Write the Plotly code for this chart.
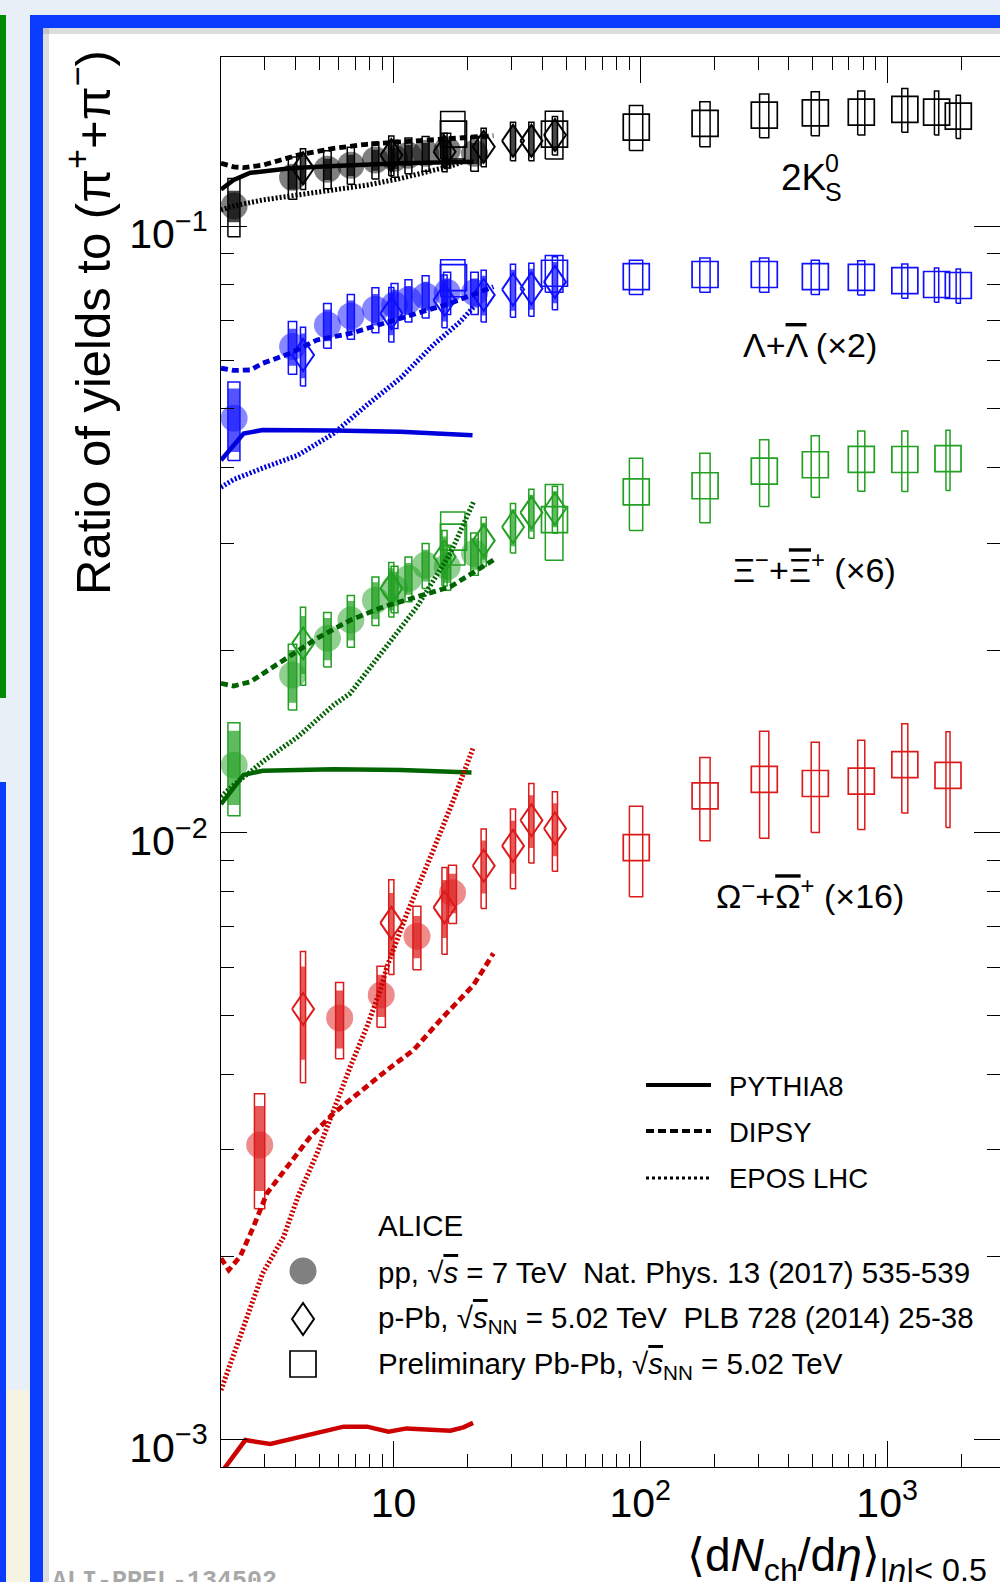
import math
import plotly.graph_objects as go

FONT = "Liberation Sans, Arial, Helvetica, sans-serif"

# ---------------- data ----------------
# multiplicity (x) values
pp_x = [2.26, 3.90, 5.40, 6.72, 8.45, 10.1, 11.5, 13.5, 16.5, 21.3]
pp_x_omega = [2.87, 6.05, 8.92, 12.45, 17.35]
ppb_x = [4.3, 9.8, 16.1, 23.2, 30.5, 36.2, 45.1]
pbpb_x_k0 = [17.5, 44.9, 96.3, 183, 318, 512, 786, 1180, 1587, 1943]
pbpb_x_xi = [17.5, 44.9, 96.3, 183, 318, 512, 786, 1180, 1765]
pbpb_x_om = [96.3, 183, 318, 512, 786, 1180, 1765]

# relative uncertainties on multiplicity (box half widths)
pp_xsys = [0.056, 0.039, 0.035, 0.033, 0.032, 0.032, 0.032, 0.032, 0.033, 0.035]
pp_xsys_omega = [0.048, 0.037, 0.039, 0.037, 0.037]
ppb_xsys = [0.024, 0.024, 0.024, 0.024, 0.024, 0.024, 0.024]
pbpb_xsys_k0 = [0.113, 0.082, 0.062, 0.048, 0.043, 0.038, 0.033, 0.028, 0.020, 0.020]
pbpb_xsys_xi = [0.113, 0.082, 0.062, 0.048, 0.043, 0.038, 0.033, 0.028, 0.019]
pbpb_xsys_om = [0.062, 0.048, 0.043, 0.038, 0.033, 0.028, 0.019]

# 2K0S / (pi+ + pi-)
k0_pp = [0.1079, 0.1203, 0.1241, 0.1260, 0.1285, 0.1294, 0.1308, 0.1318, 0.1334, 0.1318]
k0_pp_sys = [0.11, 0.08, 0.072, 0.07, 0.07, 0.07, 0.068, 0.066, 0.066, 0.066]
k0_pp_unc = [0.06, 0.045, 0.04, 0.04, 0.04, 0.04, 0.04, 0.04, 0.04, 0.04]
k0_ppb = [0.1245, 0.1309, 0.1326, 0.1351, 0.1382, 0.1382, 0.1413]
k0_ppb_sys = [0.077, 0.075, 0.073, 0.073, 0.073, 0.073, 0.073]
k0_ppb_unc = [0.06, 0.06, 0.058, 0.058, 0.058, 0.058, 0.058]
k0_pbpb = [0.1417, 0.1418, 0.1456, 0.1477, 0.1524, 0.1537, 0.1541, 0.1557, 0.1541, 0.1518]
k0_pbpb_sys = [0.09, 0.09, 0.085, 0.085, 0.083, 0.083, 0.083, 0.083, 0.083, 0.082]

# (Lambda + anti-Lambda) x2
la_pp = [0.0482, 0.0633, 0.0687, 0.0711, 0.0729, 0.0741, 0.0755, 0.0767, 0.0777, 0.0777]
la_pp_sys = [0.148, 0.10, 0.085, 0.085, 0.085, 0.085, 0.08, 0.08, 0.08, 0.08]
la_pp_unc = [0.12, 0.07, 0.06, 0.06, 0.06, 0.06, 0.055, 0.055, 0.055, 0.055]
la_ppb = [0.0613, 0.0718, 0.0755, 0.0770, 0.0786, 0.0789, 0.0809]
la_ppb_sys = [0.111, 0.103, 0.10, 0.098, 0.10, 0.10, 0.10]
la_ppb_unc = [0.085, 0.08, 0.078, 0.075, 0.078, 0.078, 0.078]
la_pbpb = [0.0822, 0.0836, 0.0825, 0.0832, 0.0832, 0.0825, 0.0823, 0.0813, 0.0801, 0.0798]
la_pbpb_sys = [0.07, 0.07, 0.065, 0.065, 0.065, 0.065, 0.065, 0.065, 0.065, 0.065]

# (Xi- + anti-Xi+) x6
xi_pp = [0.01292, 0.01819, 0.02091, 0.02241, 0.02417, 0.02527, 0.02625, 0.02761, 0.02743, 0.02887]
xi_pp_sys = [0.175, 0.124, 0.103, 0.098, 0.092, 0.088, 0.085, 0.085, 0.085, 0.08]
xi_pp_unc = [0.14, 0.10, 0.08, 0.075, 0.07, 0.065, 0.06, 0.06, 0.06, 0.06]
xi_ppb = [0.02051, 0.02527, 0.0285, 0.0303, 0.0319, 0.0337, 0.0342]
xi_ppb_sys = [0.147, 0.103, 0.105, 0.093, 0.094, 0.093, 0.089]
xi_ppb_unc = [0.11, 0.08, 0.08, 0.07, 0.07, 0.07, 0.068]
xi_pbpb = [0.0307, 0.0328, 0.03645, 0.03731, 0.03945, 0.04041, 0.04123, 0.04122, 0.04136]
xi_pbpb_sys = [0.10, 0.143, 0.136, 0.131, 0.126, 0.116, 0.114, 0.114, 0.114]

# (Omega- + anti-Omega+) x16
om_pp = [0.003055, 0.00495, 0.0054, 0.00675, 0.00796]
om_pp_sys = [0.215, 0.144, 0.115, 0.12, 0.11]
om_pp_unc = [0.16, 0.11, 0.08, 0.08, 0.075]
om_ppb = [0.00512, 0.0071, 0.00753, 0.00882, 0.00951, 0.01048, 0.01016]
om_ppb_sys = [0.244, 0.178, 0.163, 0.15, 0.15, 0.15, 0.15]
om_ppb_unc = [0.175, 0.12, 0.11, 0.10, 0.10, 0.10, 0.10]
om_pbpb = [0.00945, 0.0115, 0.01224, 0.01205, 0.01216, 0.01295, 0.01243]
om_pbpb_sys = [0.17, 0.157, 0.20, 0.17, 0.168, 0.168, 0.18]

# model curves
pythia_k0_x = [2.0, 2.25, 2.63, 3.82, 5.72, 10.7, 21.1]
pythia_k0_y = [0.1149, 0.1191, 0.1224, 0.1245, 0.1256, 0.1269, 0.1276]
dipsy_k0_x = [2.0, 2.25, 2.47, 2.95, 4.1, 5.72, 7.8, 10.7, 14.5, 19.9, 25.4]
dipsy_k0_y = [0.1269, 0.1252, 0.1248, 0.1260, 0.1309, 0.1343, 0.1364, 0.1377, 0.139, 0.140, 0.1409]
epos_k0_x = [2.0, 2.25, 2.95, 4.1, 5.72, 7.8, 10.7, 14.5, 17.5, 19.9]
epos_k0_y = [0.1063, 0.1079, 0.1104, 0.1125, 0.1146, 0.1168, 0.1198, 0.1237, 0.126, 0.1285]

pythia_la_x = [2.0, 2.25, 2.47, 2.95, 4.1, 5.72, 10.7, 20.9]
pythia_la_y = [0.0411, 0.0436, 0.0455, 0.0461, 0.0461, 0.0460, 0.0458, 0.0452]
dipsy_la_x = [2.0, 2.25, 2.63, 2.95, 3.82, 4.9, 6.68, 9.12, 12.45, 17.0, 25.4]
dipsy_la_y = [0.0583, 0.0578, 0.0579, 0.0594, 0.0617, 0.0649, 0.0665, 0.0691, 0.0718, 0.0746, 0.0794]
epos_la_x = [2.0, 2.25, 2.95, 4.1, 5.72, 7.8, 10.7, 14.5, 18.6, 21.1]
epos_la_y = [0.0371, 0.0382, 0.0399, 0.0419, 0.0455, 0.0507, 0.0562, 0.0637, 0.0695, 0.0735]

pythia_xi_x = [2.0, 2.25, 2.47, 2.95, 5.72, 10.7, 20.7]
pythia_xi_y = [0.01114, 0.01183, 0.01245, 0.01265, 0.01272, 0.01268, 0.01256]
dipsy_xi_x = [2.0, 2.25, 2.63, 3.59, 4.9, 6.68, 9.12, 12.45, 17.0, 25.4]
dipsy_xi_y = [0.01762, 0.01745, 0.01773, 0.01926, 0.02091, 0.02241, 0.02357, 0.02448, 0.02543, 0.02815]
epos_xi_x = [2.0, 2.25, 2.63, 2.95, 4.1, 5.72, 6.68, 9.12, 12.45, 17.0, 21.1]
epos_xi_y = [0.01146, 0.01198, 0.0126, 0.01309, 0.01439, 0.01623, 0.01697, 0.0200, 0.02357, 0.02887, 0.0351]

pythia_om_x = [2.0, 2.18, 2.51, 3.17, 4.19, 6.28, 7.81, 9.55, 11.3, 17.0, 19.2, 21.0]
pythia_om_y = [0.00088, 0.000924, 0.000997, 0.000982, 0.00101, 0.001049, 0.001049, 0.001029,
               0.001042, 0.001033, 0.001046, 0.001064]
dipsy_om_x = [2.0, 2.15, 2.39, 2.71, 3.07, 3.70, 4.60, 5.72, 6.89, 9.41, 12.06, 15.47, 21.1, 25.4]
dipsy_om_y = [0.001987, 0.001901, 0.0020, 0.002241, 0.002543, 0.002813, 0.003153, 0.003447,
              0.00367, 0.004061, 0.004382, 0.00491, 0.005608, 0.006324]
epos_om_x = [2.0, 2.95, 3.59, 4.1, 4.9, 5.72, 6.68, 7.8, 8.84, 9.41, 11.34, 14.5, 17.5, 21.1]
epos_om_y = [0.001205, 0.001877, 0.002157, 0.002511, 0.00296, 0.003489, 0.004112, 0.004786,
             0.005501, 0.006011, 0.007362, 0.009361, 0.01132, 0.01385]

x_tick_vals = [10, 100, 1000]
x_tick_text = ["10", "10<sup>2</sup>", "10<sup>3</sup>"]
y_tick_vals = [0.001, 0.01, 0.1]
y_tick_text = ["10<sup>\u22123</sup>", "10<sup>\u22122</sup>", "10<sup>\u22121</sup>"]

# ---------------- geometry / style ----------------
W, H = 1000, 1582
L, T, PW, PH = 221, 57, 779, 1410
DEC_X, DEC_Y = 246.8, 606.6          # pixels per decade
X_MIN, Y_MIN = 2.0, 0.0009
x_range = [math.log10(X_MIN), math.log10(X_MIN) + PW / DEC_X]
y_range = [math.log10(Y_MIN), math.log10(Y_MIN) + PH / DEC_Y]


def XP(px):
    return (px - L) / PW


def YP(py):
    return (T + PH - py) / PH


def rgba(hexc, a):
    hexc = hexc.lstrip("#")
    r, g, b = int(hexc[0:2], 16), int(hexc[2:4], 16), int(hexc[4:6], 16)
    return f"rgba({r},{g},{b},{a})"


def boxes(xs, ys, xrel, yrel):
    bx, by = [], []
    for x, y, rx, ry in zip(xs, ys, xrel, yrel):
        x0, x1 = x * (1 - rx), x * (1 + rx)
        y0, y1 = y * (1 - ry), y * (1 + ry)
        bx += [x0, x1, x1, x0, x0, None]
        by += [y0, y0, y1, y1, y0, None]
    return bx, by


def diamonds(xs, ys, hw_px, hh_px):
    fx, fy = 10 ** (hw_px / DEC_X), 10 ** (hh_px / DEC_Y)
    dx, dy = [], []
    for x, y in zip(xs, ys):
        dx += [x / fx, x, x * fx, x, x / fx, None]
        dy += [y, y * fy, y, y / fy, y, None]
    return dx, dy


fig = go.Figure()

species = [
    dict(c="#000000", m="#000000", ppx=pp_x, ppxs=pp_xsys, pp=k0_pp, pps=k0_pp_sys, ppu=k0_pp_unc,
         ppb=k0_ppb, ppbs=k0_ppb_sys, ppbu=k0_ppb_unc,
         aax=pbpb_x_k0, aaxs=pbpb_xsys_k0, aa=k0_pbpb, aas=k0_pbpb_sys,
         models=[(pythia_k0_x, pythia_k0_y), (dipsy_k0_x, dipsy_k0_y), (epos_k0_x, epos_k0_y)]),
    dict(c="#1010ff", m="#0000dd", ppx=pp_x, ppxs=pp_xsys, pp=la_pp, pps=la_pp_sys, ppu=la_pp_unc,
         ppb=la_ppb, ppbs=la_ppb_sys, ppbu=la_ppb_unc,
         aax=pbpb_x_k0, aaxs=pbpb_xsys_k0, aa=la_pbpb, aas=la_pbpb_sys,
         models=[(pythia_la_x, pythia_la_y), (dipsy_la_x, dipsy_la_y), (epos_la_x, epos_la_y)]),
    dict(c="#22a022", m="#006400", ppx=pp_x, ppxs=pp_xsys, pp=xi_pp, pps=xi_pp_sys, ppu=xi_pp_unc,
         ppb=xi_ppb, ppbs=xi_ppb_sys, ppbu=xi_ppb_unc,
         aax=pbpb_x_xi, aaxs=pbpb_xsys_xi, aa=xi_pbpb, aas=xi_pbpb_sys,
         models=[(pythia_xi_x, pythia_xi_y), (dipsy_xi_x, dipsy_xi_y), (epos_xi_x, epos_xi_y)]),
    dict(c="#dd1a1a", m="#cc0000", ppx=pp_x_omega, ppxs=pp_xsys_omega, pp=om_pp, pps=om_pp_sys, ppu=om_pp_unc,
         ppb=om_ppb, ppbs=om_ppb_sys, ppbu=om_ppb_unc,
         aax=pbpb_x_om, aaxs=pbpb_xsys_om, aa=om_pbpb, aas=om_pbpb_sys,
         models=[(pythia_om_x, pythia_om_y), (dipsy_om_x, dipsy_om_y), (epos_om_x, epos_om_y)]),
]

LINE_STYLES = [dict(dash="solid", width=4.5), dict(dash="7px,4px", width=4.8), dict(dash="2px,2px", width=5)]

for sp in species:
    c = sp["c"]
    # pp: filled translucent circles + systematic boxes
    fig.add_trace(go.Scatter(x=sp["ppx"], y=sp["pp"], mode="markers",
                             marker=dict(symbol="circle", size=27, color=c, opacity=0.5, line=dict(width=0)),
                             hoverinfo="skip"))
    bx, by = boxes(sp["ppx"], sp["pp"], sp["ppxs"], sp["ppu"])
    fig.add_trace(go.Scatter(x=bx, y=by, mode="lines", fill="toself", fillcolor=rgba(c, 0.72),
                             line=dict(width=0), hoverinfo="skip"))
    bx, by = boxes(sp["ppx"], sp["pp"], sp["ppxs"], sp["pps"])
    fig.add_trace(go.Scatter(x=bx, y=by, mode="lines", line=dict(color=c, width=1.5), hoverinfo="skip"))
    # p-Pb: systematic boxes + open diamonds
    bx, by = boxes(ppb_x, sp["ppb"], ppb_xsys, sp["ppbu"])
    fig.add_trace(go.Scatter(x=bx, y=by, mode="lines", fill="toself", fillcolor=rgba(c, 0.72),
                             line=dict(width=0), hoverinfo="skip"))
    bx, by = boxes(ppb_x, sp["ppb"], ppb_xsys, sp["ppbs"])
    fig.add_trace(go.Scatter(x=bx, y=by, mode="lines", line=dict(color=c, width=1.5), hoverinfo="skip"))
    dx, dy = diamonds(ppb_x, sp["ppb"], 11, 16)
    fig.add_trace(go.Scatter(x=dx, y=dy, mode="lines", line=dict(color=c, width=2), hoverinfo="skip"))
    # Pb-Pb: systematic boxes + open squares
    bx, by = boxes(sp["aax"], sp["aa"], sp["aaxs"], sp["aas"])
    fig.add_trace(go.Scatter(x=bx, y=by, mode="lines", line=dict(color=c, width=1.5), hoverinfo="skip"))
    fig.add_trace(go.Scatter(x=sp["aax"], y=sp["aa"], mode="markers",
                             marker=dict(symbol="square-open", size=26, color=c, line=dict(width=1.7)),
                             hoverinfo="skip"))

for sp in species:
    for (mx, my), st in zip(sp["models"], LINE_STYLES):
        fig.add_trace(go.Scatter(x=mx, y=my, mode="lines",
                                 line=dict(color=sp["m"], width=st["width"], dash=st["dash"]),
                                 hoverinfo="skip"))

# ---------------- decorations (slide frame) ----------------
shapes = []


def prect(x0, y0, x1, y1, color, layer="below"):
    shapes.append(dict(type="rect", xref="paper", yref="paper", x0=XP(x0), x1=XP(x1), y0=YP(y1), y1=YP(y0),
                       fillcolor=color, line=dict(width=0), layer=layer))


prect(43, 28, 1002, 1584, "#ffffff")
prect(43, 28, 49, 1584, "rgba(120,120,120,0.25)")
prect(43, 28, 1002, 34, "rgba(120,120,120,0.25)")
prect(30, 15, 43, 1584, "#0a3cff")
prect(30, 15, 1002, 28, "#0a3cff")
prect(0, 15, 6, 698, "#008c00")
prect(0, 782, 6, 1584, "#0a3cff")
prect(7, 1390, 29, 1584, "#f6f3e2")

# legend line samples
for yy, st in zip([1085, 1131, 1178], [dict(dash="solid", width=4), dict(dash="8px,4px", width=4),
                                       dict(dash="3px,3px", width=3)]):
    shapes.append(dict(type="line", xref="paper", yref="paper", x0=XP(646), x1=XP(711), y0=YP(yy), y1=YP(yy),
                       line=dict(color="black", width=st["width"], dash=st["dash"]), layer="above"))

# legend markers
shapes.append(dict(type="circle", xref="paper", yref="paper", x0=XP(303 - 13.5), x1=XP(303 + 13.5),
                   y0=YP(1271 + 13.5), y1=YP(1271 - 13.5), fillcolor="#808080", line=dict(width=0)))
cx, cy = 303, 1319
shapes.append(dict(type="path", xref="paper", yref="paper",
                   path=f"M{XP(cx - 11)},{YP(cy)} L{XP(cx)},{YP(cy - 16)} L{XP(cx + 11)},{YP(cy)} "
                        f"L{XP(cx)},{YP(cy + 16)} Z",
                   line=dict(color="black", width=2)))
shapes.append(dict(type="rect", xref="paper", yref="paper", x0=XP(303 - 13), x1=XP(303 + 13),
                   y0=YP(1364 + 13), y1=YP(1364 - 13), line=dict(color="black", width=1.7)))

ann = []


def text(px, py, s, size, xanchor="left", yanchor="middle", angle=0, family=FONT, color="black"):
    ann.append(dict(x=XP(px), y=YP(py), xref="paper", yref="paper", text=s, showarrow=False,
                    xanchor=xanchor, yanchor=yanchor, textangle=angle,
                    font=dict(family=family, size=size, color=color)))


OV = "<span style='text-decoration:overline'>"
NB = "\u00a0"

text(727, 1086, "PYTHIA8", 27.5)
text(727, 1132, "DIPSY", 27.5)
text(727, 1178, "EPOS LHC", 27.5)
text(376, 1225, "ALICE", 29.5)
text(376, 1272, f"pp, √{OV}<i>s</i></span> = 7 TeV{NB}{NB}Nat. Phys. 13 (2017) 535-539", 29.5)
text(376, 1319, f"p-Pb, √{OV}<i>s</i></span><sub>NN</sub> = 5.02 TeV{NB}{NB}PLB 728 (2014) 25-38", 29.5)
text(376, 1365, f"Preliminary Pb-Pb, √{OV}<i>s</i></span><sub>NN</sub> = 5.02 TeV", 29.5)

text(779, 178, "2K", 37)
text(823, 163, "0", 25)
text(823, 192, "S", 25)
text(741, 345, f"Λ+{OV}Λ</span> (×2)", 34)
text(731, 567, f"Ξ<sup>−</sup>+{OV}Ξ</span><sup>+</sup> (×6)", 34)
text(714, 893, f"Ω<sup>−</sup>+{OV}Ω</span><sup>+</sup> (×16)", 34)

text(89, 323, "Ratio of yields to (π<sup>+</sup>+π<sup>−</sup>)", 49, xanchor="center", angle=-90)
text(685, 1558, "⟨d<i>N</i><sub>ch</sub>/d<i>η</i>⟩<sub>|<i>η</i>|< 0.5</sub>", 46)
text(50, 1565, "<b>ALI-PREL-134502</b>", 25, yanchor="top", family="Liberation Mono, Courier New, monospace",
     color="#a8a8a8")

x_minor = [m * 10 ** e for e in range(0, 4) for m in range(2, 10)]
y_minor = [m * 10 ** e for e in range(-4, 0) for m in range(2, 10)]

axis_common = dict(type="log", showgrid=False, zeroline=False, showline=True, linecolor="black", linewidth=1.3,
                   ticks="inside", ticklen=26, tickwidth=1.3, tickcolor="black", mirror="allticks",
                   tickfont=dict(family=FONT, size=41, color="black"), automargin=False)

fig.update_layout(
    width=W, height=H,
    margin=dict(l=L, r=W - L - PW, t=T, b=H - T - PH, pad=0),
    paper_bgcolor="#e8eff7", plot_bgcolor="white",
    showlegend=False,
    xaxis=dict(axis_common, range=x_range, tickmode="array", tickvals=x_tick_vals, ticktext=x_tick_text,
               ticklabelstandoff=0,
               minor=dict(tickmode="array", tickvals=x_minor, ticks="inside", ticklen=13, tickwidth=1.3,
                          tickcolor="black", showgrid=False)),
    yaxis=dict(axis_common, range=y_range, tickmode="array", tickvals=y_tick_vals, ticktext=y_tick_text,
               ticklabelstandoff=4, ticklabelshift=8,
               minor=dict(tickmode="array", tickvals=y_minor, ticks="inside", ticklen=13, tickwidth=1.3,
                          tickcolor="black", showgrid=False)),
    shapes=shapes,
    annotations=ann,
)

fig.write_html("out.html", config={"displayModeBar": False},
               post_script="document.body.style.margin='0px';document.body.style.overflow='hidden';")
